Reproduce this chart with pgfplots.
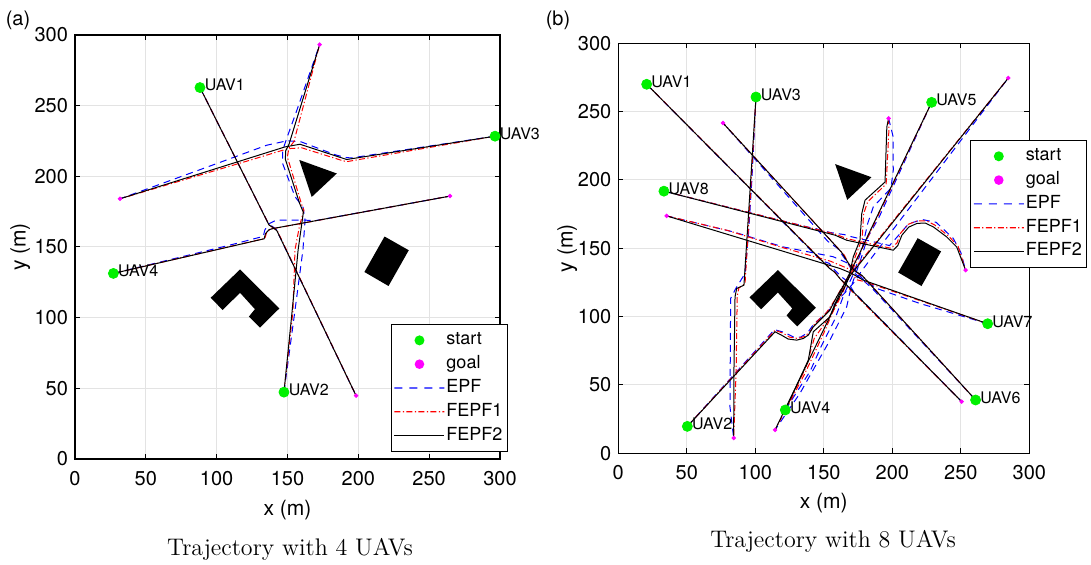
\documentclass[border=0pt]{standalone}
\usepackage{pgfplots}
\pgfplotsset{compat=1.18}
\usepackage{fontspec}
\newfontfamily\hv{TeX Gyre Heros}
\definecolor{startgreen}{HTML}{00F000}
\definecolor{goalmagenta}{HTML}{FF00FF}

\tikzset{
  epf/.style={color=blue, line width=0.5pt, dash pattern=on 3.5pt off 2.5pt},
  fepfa/.style={color=red, line width=0.5pt, dash pattern=on 3pt off 1.2pt on 0.6pt off 1.2pt},
  fepfb/.style={color=black, line width=0.5pt, solid},
  uavlabel/.style={anchor=west, font=\hv\fontsize{8}{9}\selectfont, inner sep=0pt, xshift=2.2pt, yshift=1.2pt},
}

\pgfplotsset{
  % legend samples, 25pt wide, built from filled pieces
  start legend/.style={legend image code/.code={%
    \path[draw=none, fill=none] (0pt,0pt) -- (25pt,0pt);
    \path[draw=none, fill=startgreen] (12.5pt,0pt) circle (2.5pt);}},
  goal legend/.style={legend image code/.code={%
    \path[draw=none, fill=none] (0pt,0pt) -- (25pt,0pt);
    \path[draw=none, fill=goalmagenta] (12.5pt,0pt) circle (2.4pt);}},
  epf legend/.style={legend image code/.code={%
    \path[draw=none, fill=blue] (0pt,-0.28pt) rectangle (4pt,0.28pt)
      (7.5pt,-0.28pt) rectangle (11.5pt,0.28pt)
      (15pt,-0.28pt) rectangle (19pt,0.28pt)
      (22.5pt,-0.28pt) rectangle (25pt,0.28pt);}},
  fepfa legend/.style={legend image code/.code={%
    \path[draw=none, fill=red] (0pt,-0.28pt) rectangle (3pt,0.28pt)
      (4.2pt,-0.28pt) rectangle (4.8pt,0.28pt)
      (6pt,-0.28pt) rectangle (9pt,0.28pt)
      (10.2pt,-0.28pt) rectangle (10.8pt,0.28pt)
      (12pt,-0.28pt) rectangle (15pt,0.28pt)
      (16.2pt,-0.28pt) rectangle (16.8pt,0.28pt)
      (18pt,-0.28pt) rectangle (21pt,0.28pt)
      (22.2pt,-0.28pt) rectangle (22.8pt,0.28pt)
      (24pt,-0.28pt) rectangle (25pt,0.28pt);}},
  fepfb legend/.style={legend image code/.code={%
    \path[draw=none, fill=black] (0pt,-0.28pt) rectangle (25pt,0.28pt);}},
  trajectory axis/.style={
    scale only axis, anchor=south west,
    xmin=0, xmax=300, ymin=0, ymax=300,
    xtick={0,50,...,300}, ytick={0,50,...,300},
    grid=major, major grid style={draw=gray!22, line width=0.5pt},
    tick align=inside, major tick length=2.5pt,
    axis line style={line width=0.6pt},
    every tick/.style={black, line width=0.5pt},
    tick label style={font=\hv\fontsize{10}{12}\selectfont},
    xticklabel style={yshift=-2.4pt},
    /pgf/number format/assume math mode=true,
    xlabel={x (m)}, ylabel={y (m)},
    label style={font=\hv\fontsize{10.5}{12}\selectfont},
    clip=false,
    legend cell align=left,
    legend style={font=\hv\fontsize{9}{10}\selectfont, line width=0.5pt,
      inner xsep=1.5pt, inner ysep=2.2pt, row sep=0.4pt,
      nodes={inner sep=1pt, text depth=2.5pt}},
    legend entries={\strut start, \strut goal, \strut EPF, \strut FEPF1, \strut FEPF2},
  },
}

% legend samples shared by both panels
\newcommand{\legendimages}{%
  \addlegendimage{start legend}
  \addlegendimage{goal legend}
  \addlegendimage{epf legend}
  \addlegendimage{fepfa legend}
  \addlegendimage{fepfb legend}
}

% the three obstacles
\newcommand{\obstacles}{%
  \addplot[fill=black, draw=none, forget plot] coordinates {(158.3,211.6) (184.8,202.0) (167.1,185.4)} -- cycle;
  \addplot[fill=black, draw=none, forget plot] coordinates {(218.5,157.4) (235.6,147.7) (221.3,122.4) (204.3,132.3)} -- cycle;
  \addplot[fill=black, draw=none, forget plot] coordinates {(116.5,134.1) (144.2,106.5) (130.6,92.9) (122.8,100.8) (127.0,106.0) (116.5,117.6) (104.2,105.4) (95.8,114.1)} -- cycle;
}

\begin{document}
\begin{tikzpicture}
\path[use as bounding box] (0,0) rectangle (545.5pt,282.5pt);

% ---------------- (a) four UAVs ----------------
\begin{axis}[trajectory axis, at={(37.5pt,53pt)}, width=212.5pt, height=212pt,
  x label style={at={(axis description cs:0.5,-0.12)}, anchor=center},
  y label style={at={(axis description cs:-0.129,0.5)}, anchor=center},
  legend style={at={(axis description cs:1,0)}, anchor=south east, xshift=4pt, yshift=3.5pt}]
\legendimages
\obstacles
\addplot[only marks, mark=*, mark size=2.5pt, color=startgreen, forget plot] coordinates {(88.2,262.8) (147.5,47.3) (296.5,228.4) (27.1,131.3)};
\addplot[only marks, mark=*, mark size=0.9pt, color=goalmagenta, forget plot] coordinates {(198.4,44.8) (172.7,293.2) (31.8,184.1) (264.7,186.0)};
% EPF
\addplot[epf, forget plot] coordinates {(88.2,262.8) (136.8,166.0) (139.0,164.8) (142.0,162.5) (198.4,44.8)};
\addplot[epf, forget plot] coordinates {(147.5,47.3) (155.0,103.0) (160.9,148.0) (162.4,169.0) (161.0,178.0) (155.3,185.6) (146.6,209.0) (146.5,218.0) (149.5,227.0) (156.0,245.0) (172.7,293.2)};
\addplot[epf, forget plot] coordinates {(296.5,228.4) (195.0,213.0) (191.5,213.3) (184.4,215.0) (159.8,224.3) (150.0,225.2) (135.3,222.0) (100.0,209.0) (31.8,184.1)};
\addplot[epf, forget plot] coordinates {(27.1,131.3) (110.0,151.5) (132.9,157.5) (134.0,162.0) (136.5,166.2) (141.0,168.5) (144.7,169.0) (161.2,169.0) (170.0,168.7) (264.7,186.0)};
% FEPF1
\addplot[fepfa, forget plot] coordinates {(88.2,262.8) (137.2,165.2) (140.0,163.6) (143.0,161.0) (198.4,44.8)};
\addplot[fepfa, forget plot] coordinates {(147.5,47.3) (153.8,104.0) (155.3,148.0) (158.5,165.0) (161.6,176.0) (160.0,180.0) (149.9,213.7) (151.0,220.0) (154.5,224.5) (172.7,293.2)};
\addplot[fepfa, forget plot] coordinates {(296.5,228.4) (192.5,210.5) (189.4,210.9) (160.0,220.2) (150.0,219.5) (123.5,211.4) (31.8,184.1)};
\addplot[fepfa, forget plot] coordinates {(27.1,131.3) (134.0,156.0) (135.3,160.3) (138.0,162.8) (141.5,163.3) (264.7,186.0)};
% FEPF2
\addplot[fepfb, forget plot] coordinates {(88.2,262.8) (137.0,165.5) (139.5,164.0) (142.5,161.5) (198.4,44.8)};
\addplot[fepfb, forget plot] coordinates {(147.5,47.3) (153.0,102.0) (157.5,148.0) (161.2,174.5) (158.5,181.0) (148.5,212.0) (148.7,218.0) (151.0,222.5) (172.7,293.2)};
\addplot[fepfb, forget plot] coordinates {(296.5,228.4) (191.8,211.9) (158.8,222.7) (148.2,220.8) (31.8,184.1)};
\addplot[fepfb, forget plot] coordinates {(27.1,131.3) (133.5,155.8) (134.5,159.5) (137.0,162.3) (140.5,163.2) (264.7,186.0)};
\node[uavlabel] at (axis cs:88.2,262.8) {UAV1};
\node[uavlabel] at (axis cs:147.5,47.3) {UAV2};
\node[uavlabel] at (axis cs:296.5,228.4) {UAV3};
\node[uavlabel] at (axis cs:27.1,131.3) {UAV4};
\end{axis}

% ---------------- (b) eight UAVs ----------------
\begin{axis}[trajectory axis, at={(309.15pt,55.85pt)}, width=205.5pt, height=205pt,
  x label style={at={(axis description cs:0.5,-0.122)}, anchor=center},
  y label style={at={(axis description cs:-0.124,0.5)}, anchor=center},
  legend style={at={(axis description cs:1,1)}, anchor=north east, xshift=29pt, yshift=-48.3pt}]
\legendimages
\obstacles
\addplot[only marks, mark=*, mark size=2.5pt, color=startgreen, forget plot] coordinates {(20.7,270.0) (50.4,19.7) (100.5,260.7) (121.9,31.7) (228.7,256.8) (260.8,39.0) (269.6,94.8) (33.3,191.8)};
\addplot[only marks, mark=*, mark size=0.9pt, color=goalmagenta, forget plot] coordinates {(250.6,37.8) (284.7,274.6) (84.2,11.2) (197.3,245.1) (114.4,17.1) (76.4,241.7) (35.3,173.7) (253.5,134.0)};
% EPF
\addplot[epf, forget plot] coordinates {(20.7,270.0) (148.0,141.0) (154.0,139.0) (158.0,134.0) (163.0,129.0) (167.0,126.0) (172.0,118.0) (250.6,37.8)};
\addplot[epf, forget plot] coordinates {(50.4,19.7) (114.0,90.5) (121.0,88.5) (128.0,85.0) (133.0,85.0) (138.0,88.0) (143.0,95.0) (150.0,101.0) (157.0,108.0) (162.0,114.0) (166.0,118.0) (172.0,125.0) (178.0,134.0) (284.7,274.6)};
\addplot[epf, forget plot] coordinates {(100.5,260.7) (97.5,200.0) (95.0,160.0) (92.5,131.6) (86.0,121.0) (82.0,113.3) (81.5,34.0) (84.2,11.2)};
\addplot[epf, forget plot] coordinates {(121.9,31.7) (140.0,60.0) (148.0,78.0) (158.0,98.0) (165.0,117.0) (172.0,132.0) (178.0,150.0) (182.0,168.0) (186.1,180.3) (199.0,194.0) (200.7,207.1) (200.5,232.0) (197.3,245.1)};
\addplot[epf, forget plot] coordinates {(228.7,256.8) (190.0,172.0) (182.0,158.0) (177.0,142.0) (170.0,122.0) (166.7,107.2) (154.5,82.8) (132.6,43.9) (114.4,17.1)};
\addplot[epf, forget plot] coordinates {(260.8,39.0) (185.0,121.0) (177.0,128.0) (171.0,133.0) (167.0,140.0) (160.0,150.0) (153.0,155.0) (76.4,241.7)};
\addplot[epf, forget plot] coordinates {(269.6,94.8) (220.2,109.6) (188.6,120.6) (178.0,128.0) (170.0,138.0) (156.9,143.8) (120.4,151.0) (83.9,162.0) (35.3,173.7)};
\addplot[epf, forget plot] coordinates {(33.3,191.8) (120.0,170.0) (155.0,161.5) (165.0,160.0) (170.0,158.5) (198.0,152.0) (205.0,160.0) (212.0,168.0) (222.0,171.0) (232.0,169.0) (244.5,157.2) (250.0,147.0) (253.5,134.0)};
% FEPF1
\addplot[fepfa, forget plot] coordinates {(20.7,270.0) (152.0,137.8) (157.0,133.5) (161.0,129.0) (166.0,123.0) (250.6,37.8)};
\addplot[fepfa, forget plot] coordinates {(50.4,19.7) (114.4,90.0) (120.0,88.0) (125.0,85.0) (131.0,84.0) (136.0,85.5) (140.0,89.0) (143.5,95.0) (152.0,103.0) (158.0,112.0) (163.0,121.0) (168.0,130.0) (174.0,137.0) (284.7,274.6)};
\addplot[fepfa, forget plot] coordinates {(100.5,260.7) (96.5,190.0) (92.5,124.0) (88.0,121.0) (86.8,115.0) (86.0,60.0) (84.2,11.2)};
\addplot[fepfa, forget plot] coordinates {(121.9,31.7) (137.0,63.0) (143.0,84.0) (150.0,94.0) (158.0,106.0) (164.0,118.0) (169.0,131.0) (173.0,144.0) (178.0,157.0) (179.0,175.0) (182.0,184.0) (195.5,197.0) (197.5,236.0) (197.3,245.1)};
\addplot[fepfa, forget plot] coordinates {(228.7,256.8) (183.5,161.0) (177.0,148.0) (170.0,132.0) (162.0,116.0) (150.0,88.0) (136.0,58.0) (114.4,17.1)};
\addplot[fepfa, forget plot] coordinates {(260.8,39.0) (179.0,129.0) (173.0,133.0) (169.0,137.0) (165.0,145.0) (76.4,241.7)};
\addplot[fepfa, forget plot] coordinates {(269.6,94.8) (180.0,125.5) (174.0,127.0) (168.0,135.0) (155.0,140.5) (120.0,150.5) (80.0,163.0) (35.3,173.7)};
\addplot[fepfa, forget plot] coordinates {(33.3,191.8) (158.0,160.5) (167.0,157.0) (199.0,150.0) (203.5,154.0) (206.0,161.0) (211.5,167.5) (218.0,170.0) (225.0,170.0) (231.0,167.0) (241.0,159.0) (248.0,151.5) (253.5,134.0)};
% FEPF2
\addplot[fepfb, forget plot] coordinates {(20.7,270.0) (154.0,135.4) (158.0,132.5) (162.0,127.5) (166.0,123.8) (250.6,37.8)};
\addplot[fepfb, forget plot] coordinates {(50.4,19.7) (114.4,88.9) (119.0,86.5) (124.0,83.6) (130.2,82.8) (135.0,84.0) (138.7,86.5) (142.3,92.5) (154.5,104.8) (159.4,114.5) (164.0,122.0) (170.0,131.0) (284.7,274.6)};
\addplot[fepfb, forget plot] coordinates {(100.5,260.7) (96.0,190.0) (91.7,123.0) (86.4,120.6) (85.2,114.5) (84.4,60.0) (84.2,11.2)};
\addplot[fepfb, forget plot] coordinates {(121.9,31.7) (138.7,68.2) (142.3,88.9) (154.5,99.9) (159.4,110.8) (165.0,121.0) (168.3,128.4) (171.5,143.7) (176.4,156.0) (177.7,175.4) (180.1,185.2) (194.7,198.5) (196.0,238.8) (197.3,245.1)};
\addplot[fepfb, forget plot] coordinates {(228.7,256.8) (182.5,160.0) (176.0,146.0) (170.0,134.0) (165.0,124.0) (158.0,109.0) (154.0,99.0) (139.0,68.0) (114.4,17.1)};
\addplot[fepfb, forget plot] coordinates {(260.8,39.0) (178.0,130.0) (172.0,134.0) (168.0,139.0) (163.0,147.0) (76.4,241.7)};
\addplot[fepfb, forget plot] coordinates {(269.6,94.8) (178.8,126.7) (174.0,129.5) (170.0,131.8) (161.8,135.2) (35.3,173.7)};
\addplot[fepfb, forget plot] coordinates {(33.3,191.8) (158.2,159.6) (166.7,155.9) (200.7,148.6) (204.0,152.0) (207.0,159.6) (212.0,165.5) (218.0,168.2) (224.0,168.5) (230.0,165.6) (239.7,158.3) (247.0,151.0) (253.5,134.0)};
\node[uavlabel] at (axis cs:20.7,270.0) {UAV1};
\node[uavlabel] at (axis cs:50.4,19.7) {UAV2};
\node[uavlabel] at (axis cs:100.5,260.7) {UAV3};
\node[uavlabel] at (axis cs:121.9,31.7) {UAV4};
\node[uavlabel] at (axis cs:228.7,256.8) {UAV5};
\node[uavlabel] at (axis cs:260.8,39.0) {UAV6};
\node[uavlabel] at (axis cs:269.6,94.8) {UAV7};
\node[uavlabel] at (axis cs:33.3,191.8) {UAV8};
\end{axis}

% panel tags and captions
\node[font=\hv\fontsize{10}{12}\selectfont] at (9pt,272.5pt) {(a)};
\node[font=\hv\fontsize{10}{12}\selectfont] at (279pt,272.5pt) {(b)};
\node[font=\fontsize{12}{14}\selectfont] at (145pt,8pt) {Trajectory with 4 UAVs};
\node[font=\fontsize{12}{14}\selectfont] at (416.5pt,12pt) {Trajectory with 8 UAVs};
\end{tikzpicture}
\end{document}
